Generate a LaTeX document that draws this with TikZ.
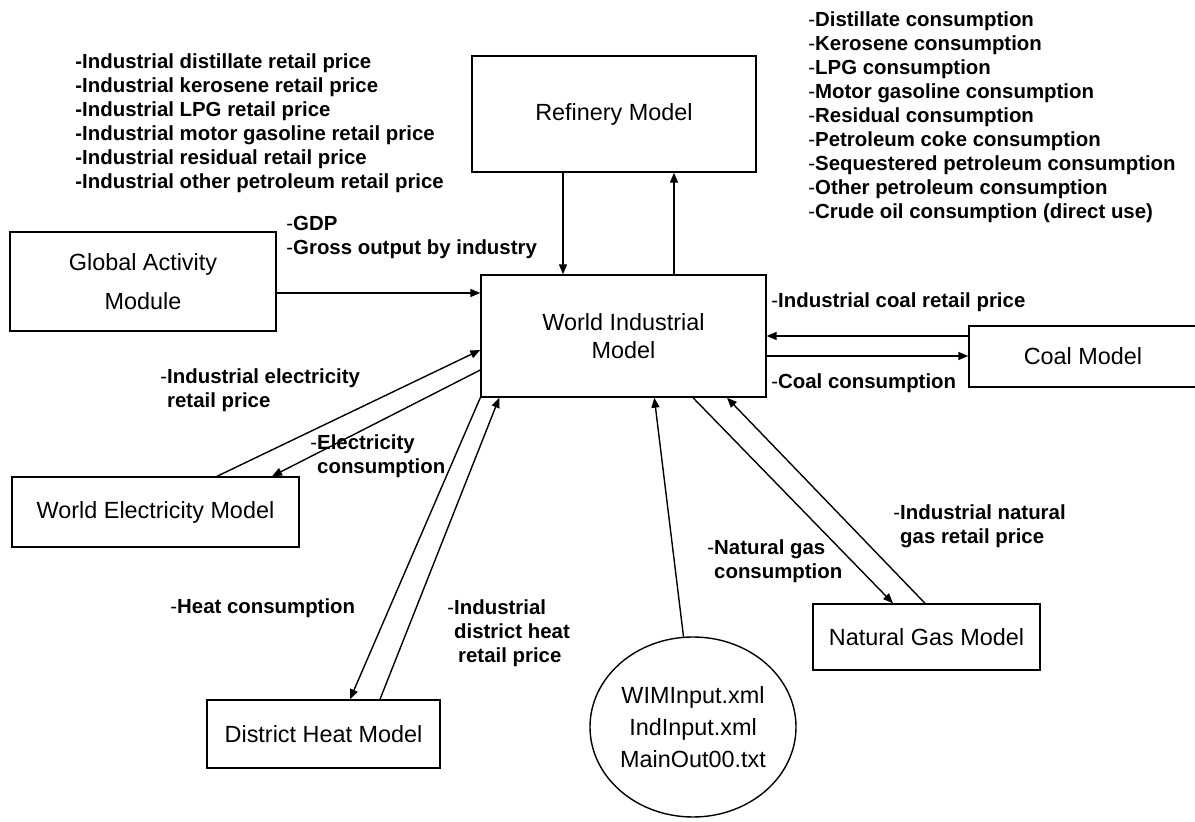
\documentclass[tikz,border=0pt]{standalone}
\usepackage{fontspec}
\setmainfont{Liberation Sans}
\usetikzlibrary{arrows.meta, calc, positioning, shapes.geometric}

\newcommand{\dashitem}[1]{-\textbf{#1}}
\newcommand{\ind}{\phantom{-}}

\tikzset{
  model/.style={draw, line width=0.7pt, inner sep=0pt, align=center, font=\fontsize{11.7}{14}\selectfont},
  flow/.style={-{Triangle[length=5pt,width=4pt]}, line width=0.7pt},
  info/.style={inner sep=0pt, align=left, font=\fontsize{10.2}{12}\selectfont},
}

\begin{document}
\begin{tikzpicture}[x=0.5pt, y=-0.5pt]
    \useasboundingbox (0,0) rectangle (1195,822);
    \clip (0,0) rectangle (1195,822);

    % Models
    \node[model, minimum width=142pt, minimum height=58pt] (ref) at (614,114) {Refinery Model};
    \node[model, minimum width=142.5pt, minimum height=61pt] (wim) at (623.5,336) {World Industrial\\Model};
    \node[model, minimum width=133pt, minimum height=49.5pt, font=\fontsize{11.7}{19.5}\selectfont] (gam) at (143,281.5) {Global Activity\\Module};
    \node[model, minimum width=114pt, minimum height=30.5pt] (coal) at (1083,356.5) {Coal Model};
    \node[model, minimum width=143.5pt, minimum height=35pt] (elec) at (155.5,512) {World Electricity Model};
    \node[model, minimum width=116.5pt, minimum height=34pt] (heat) at (323.5,734) {District Heat Model};
    \node[model, minimum width=113.5pt, minimum height=33pt] (gas) at (926.5,637) {Natural Gas Model};
    \node[model, ellipse, minimum width=97pt, minimum height=90pt, font=\fontsize{11.7}{16}\selectfont] (files) at (693,727) {WIMInput.xml\\IndInput.xml\\MainOut00.txt};

    % Flows
    \draw[flow] ($(gam.east)+(0,11.5)$) coordinate (g1) -- (g1 -| wim.west);
    \draw[flow] ($(ref.south)+(-51,0)$) coordinate (r1) -- (r1 |- wim.north);
    \draw[flow] ($(wim.north)+(50.5,0)$) coordinate (r2) -- (r2 |- ref.south);
    \draw[flow] ($(coal.west)+(0,-20.5)$) coordinate (c1) -- (c1 -| wim.east);
    \draw[flow] ($(wim.east)+(0,20)$) coordinate (c2) -- (c2 -| coal.west);
    \draw[flow] ($(elec.north)+(61.5,0)$) -- ($(wim.west)+(0,14)$);
    \draw[flow] ($(wim.west)+(0,34)$) -- ($(elec.north)+(116.5,0)$);
    \draw[flow] (wim.south west) -- ($(heat.north)+(26.5,0)$);
    \draw[flow] ($(heat.north)+(56.5,0)$) -- ($(wim.south west)+(19,0)$);
    \draw[flow] (files.96) -- ($(wim.south west)+(174,0)$);
    \draw[flow] ($(wim.south)+(69.5,0)$) -- ($(gas.north)+(-33.5,0)$);
    \draw[flow] ($(gas.north)+(-1.5,0)$) -- ($(wim.south)+(103.5,0)$);

    % Labels
    \node[info, anchor=north west, font=\fontsize{10.2}{12}\selectfont\bfseries] (pricelist) at (75,53)
        {-Industrial distillate retail price\\-Industrial kerosene retail price\\-Industrial LPG retail price\\-Industrial motor gasoline retail price\\-Industrial residual retail price\\-Industrial other petroleum retail price};
    \node[info, anchor=north west] (conslist) at (808,11)
        {\dashitem{Distillate consumption}\\\dashitem{Kerosene consumption}\\\dashitem{LPG consumption}\\\dashitem{Motor gasoline consumption}\\\dashitem{Residual consumption}\\\dashitem{Petroleum coke consumption}\\\dashitem{Sequestered petroleum consumption}\\\dashitem{Other petroleum consumption}\\\dashitem{Crude oil consumption (direct use)}};
    \node[info, anchor=north west] (gdplbl) at (286,216) {\dashitem{GDP}\\\dashitem{Gross output by industry}};
    \node[info, anchor=west] (coalprice) at (771,302) {\dashitem{Industrial coal retail price}};
    \node[info, anchor=west] (coalcons) at (771,383) {\dashitem{Coal consumption}};
    \node[info, anchor=north west] (elecprice) at (160,368) {\dashitem{Industrial electricity}\\\ind\textbf{retail price}};
    \node[info, anchor=north west] (eleccons) at (310,434) {\dashitem{Electricity}\\\ind\textbf{consumption}};
    \node[info, anchor=west] (heatcons) at (170,608) {\dashitem{Heat consumption}};
    \node[info, anchor=north west] (heatprice) at (447,599) {\dashitem{Industrial}\\\ind\textbf{district heat}\\\ind\hspace{2pt}\textbf{retail price}};
    \node[info, anchor=north west] (gascons) at (707,539) {\dashitem{Natural gas}\\\ind\textbf{consumption}};
    \node[info, anchor=north west] (gasprice) at (893,504) {\dashitem{Industrial natural}\\\ind\textbf{gas retail price}};
\end{tikzpicture}
\end{document}
